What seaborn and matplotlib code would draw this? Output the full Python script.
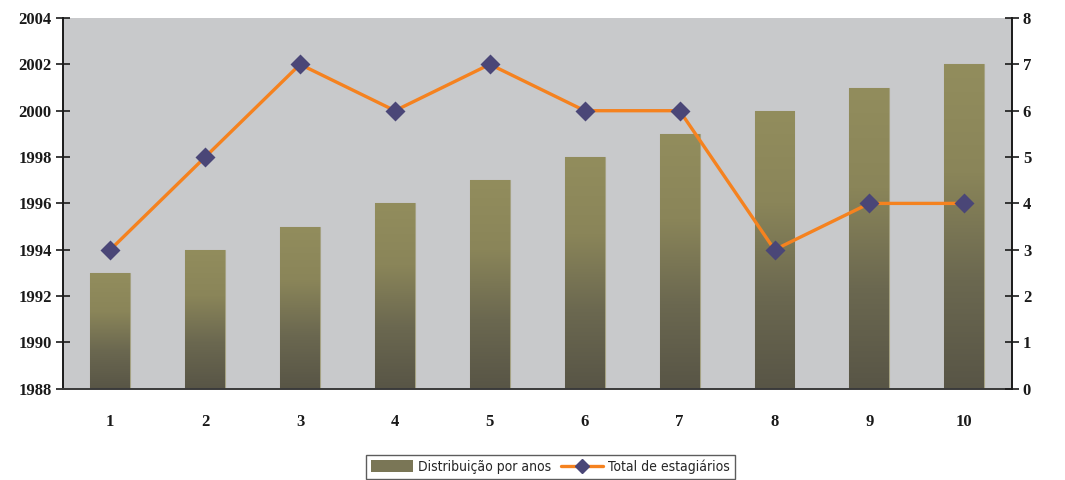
import numpy as np
import pandas as pd
import matplotlib
matplotlib.use("Agg")
import matplotlib.pyplot as plt
import seaborn as sns
from matplotlib.lines import Line2D
from matplotlib.patches import Patch
from matplotlib.ticker import FixedLocator
from matplotlib.colors import LinearSegmentedColormap
from matplotlib.font_manager import FontProperties

# Data
categories = ["1", "2", "3", "4", "5", "6", "7", "8", "9", "10"]
anos = [1993, 1994, 1995, 1996, 1997, 1998, 1999, 2000, 2001, 2002]
estagiarios = [3, 5, 7, 6, 7, 6, 6, 3, 4, 4]
left_ticks = [1988, 1990, 1992, 1994, 1996, 1998, 2000, 2002, 2004]
right_ticks = [0, 1, 2, 3, 4, 5, 6, 7, 8]

df = pd.DataFrame({"cat": categories, "ano": anos, "total": estagiarios})

sns.set_theme(style="white")
plt.rcParams["font.family"] = ["Liberation Serif", "DejaVu Serif"]

fig = plt.figure(figsize=(10.65, 4.8), dpi=100)
ax = fig.add_axes([0.059, 0.190, 0.891, 0.7725])
ax.set_facecolor("#c8c9cb")

bar_base = 1988
sns.barplot(data=df, x="cat", y="ano", order=categories, ax=ax,
            color="#8b8659", width=0.42, saturation=1,
            edgecolor="#a5a283", linewidth=0.8)

# Re-base bars at the axis floor and apply a vertical gradient
grad = LinearSegmentedColormap.from_list("olive", ["#585546", "#6b6850", "#8a8559", "#928d5d"])
gvals = np.linspace(0, 1, 256).reshape(-1, 1)
for p, val in zip(ax.patches, anos):
    p.set_y(bar_base)
    p.set_height(val - bar_base)
    x0 = p.get_x()
    w = p.get_width()
    im = ax.imshow(gvals, cmap=grad, aspect="auto", origin="lower",
                   extent=[x0, x0 + w, bar_base, val], zorder=p.get_zorder() + 0.1)
    im.set_clip_path(p)

ax.set_xlim(-0.5, 9.5)
ax.set_ylim(1988, 2004)
ax.yaxis.set_major_locator(FixedLocator(left_ticks))
ax.set_yticklabels([str(t) for t in left_ticks])
ax.set_xlabel("")
ax.set_ylabel("")

# Category boundary ticks on the x axis
ax.xaxis.set_minor_locator(FixedLocator(np.arange(0.5, 9.5, 1.0)))
ax.tick_params(axis="x", which="major", length=0, pad=18, labelsize=12)
ax.tick_params(axis="x", which="minor", length=7, width=1.2, direction="out", color="#333333")
ax.tick_params(axis="y", length=10, width=1.2, direction="inout", color="#1a1a1a",
               labelsize=12, pad=3)
for lbl in ax.get_xticklabels() + ax.get_yticklabels():
    lbl.set_fontweight("bold")
    lbl.set_color("#1a1a1a")

ax.spines["top"].set_visible(False)
ax.spines["right"].set_visible(False)
ax.spines["left"].set_color("#1a1a1a")
ax.spines["left"].set_linewidth(1.4)
ax.spines["bottom"].set_color("#3a3a3a")
ax.spines["bottom"].set_linewidth(1.4)

# Secondary axis for the line series
ax2 = ax.twinx()
ax2.patch.set_visible(False)
sns.pointplot(data=df, x="cat", y="total", order=categories, ax=ax2,
              color="#f5821f", markers="", linestyles="-", errorbar=None)
for ln in ax2.lines:
    ln.set_linewidth(2.4)
    ln.set_marker("")
sns.pointplot(data=df, x="cat", y="total", order=categories, ax=ax2,
              color="#4a4677", markers="D", linestyles="none", errorbar=None,
              markersize=8)
ax2.set_xlim(-0.5, 9.5)
ax2.set_ylim(0, 8)
ax2.yaxis.set_major_locator(FixedLocator(right_ticks))
ax2.set_yticklabels([str(t) for t in right_ticks])
ax2.set_xlabel("")
ax2.set_ylabel("")
ax2.tick_params(axis="y", length=10, width=1.2, direction="inout", color="#1a1a1a",
                labelsize=12, pad=3)
for lbl in ax2.get_yticklabels():
    lbl.set_fontweight("bold")
    lbl.set_color("#1a1a1a")
ax2.spines["top"].set_visible(False)
ax2.spines["left"].set_visible(False)
ax2.spines["bottom"].set_visible(False)
ax2.spines["right"].set_color("#1a1a1a")
ax2.spines["right"].set_linewidth(1.4)

# Legend below the plot
handles = [
    Patch(facecolor="#7a7656", edgecolor="none", label="Distribuição por anos"),
    Line2D([0], [0], color="#f5821f", lw=2.4, marker="D", markersize=7,
           markerfacecolor="#4a4677", markeredgecolor="#4a4677", label="Total de estagiários"),
]
leg_font = FontProperties(family=["DejaVu Sans"], stretch="condensed", size=10)
leg = fig.legend(handles=handles, loc="lower center", bbox_to_anchor=(0.517, -0.012),
                 ncol=2, frameon=True, fancybox=False, edgecolor="#333333",
                 prop=leg_font, handlelength=3.0, handleheight=0.9,
                 columnspacing=0.7, borderpad=0.35, handletextpad=0.4)
leg.get_frame().set_linewidth(1.0)

fig.savefig("out.png", dpi=100, facecolor="white")
